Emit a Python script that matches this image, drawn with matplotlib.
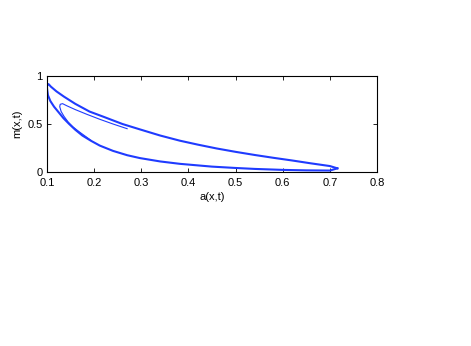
import matplotlib
matplotlib.use("Agg")
import matplotlib.pyplot as plt

# transient segment (a, m)
inner_a = [0.270, 0.240, 0.212, 0.185, 0.160, 0.142, 0.133, 0.128, 0.127, 0.130,
           0.136, 0.145, 0.155, 0.168, 0.182, 0.193]
inner_m = [0.451, 0.500, 0.549, 0.600, 0.650, 0.690, 0.712, 0.705, 0.680, 0.630,
           0.580, 0.520, 0.470, 0.420, 0.370, 0.330]

# limit cycle: lower branch (left to right)
lower_a = [0.100, 0.102, 0.107, 0.115, 0.125, 0.135, 0.147, 0.160, 0.175, 0.193,
           0.212, 0.240, 0.270, 0.297, 0.340, 0.382, 0.450, 0.500, 0.541, 0.600,
           0.650, 0.700, 0.716]
lower_m = [0.870, 0.800, 0.740, 0.680, 0.620, 0.560, 0.500, 0.440, 0.380, 0.326,
           0.275, 0.220, 0.175, 0.145, 0.110, 0.085, 0.056, 0.042, 0.032, 0.022,
           0.017, 0.015, 0.038]

# limit cycle: upper branch (right to left)
upper_a = [0.716, 0.700, 0.660, 0.620, 0.580, 0.541, 0.500, 0.460, 0.420, 0.382,
           0.340, 0.297, 0.260, 0.220, 0.190, 0.160, 0.136, 0.120, 0.108, 0.104,
           0.102, 0.100, 0.100]
upper_m = [0.038, 0.062, 0.090, 0.120, 0.148, 0.177, 0.210, 0.245, 0.285, 0.326,
           0.380, 0.444, 0.500, 0.575, 0.630, 0.710, 0.785, 0.840, 0.890, 0.912,
           0.917, 0.900, 0.870]

xticks = [0.1, 0.2, 0.3, 0.4, 0.5, 0.6, 0.7, 0.8]
xticklabels = ["0.1", "0.2", "0.3", "0.4", "0.5", "0.6", "0.7", "0.8"]
yticks = [0, 0.5, 1]
yticklabels = ["0", "0.5", "1"]

plt.rcParams['font.family'] = ['Liberation Sans', 'DejaVu Sans']
fig = plt.figure(figsize=(4.71, 3.46), dpi=100)
ax = fig.add_axes([47/471, 1-172/346, 330/471, 96/346])

col = '#1f3bff'
ax.plot(inner_a, inner_m, color=col, lw=0.8)
ax.plot(lower_a, lower_m, color=col, lw=1.5, solid_joinstyle='round')
ax.plot(upper_a, upper_m, color=col, lw=1.5, solid_joinstyle='round')

ax.set_xlim(0.1, 0.8)
ax.set_ylim(0, 1)
ax.set_xticks(xticks)
ax.set_xticklabels(xticklabels)
ax.set_yticks(yticks)
ax.set_yticklabels(yticklabels)
ax.tick_params(direction='in', top=True, right=True, labelsize=8, length=3, width=0.6)
ax.tick_params(axis='x', pad=4)
ax.tick_params(axis='y', pad=3)
for s in ax.spines.values():
    s.set_linewidth(0.8)
ax.set_xlabel('a(x,t)', fontsize=8, labelpad=3)
ax.set_ylabel('m(x,t)', fontsize=8, labelpad=4)

fig.savefig('out.png', dpi=100)
